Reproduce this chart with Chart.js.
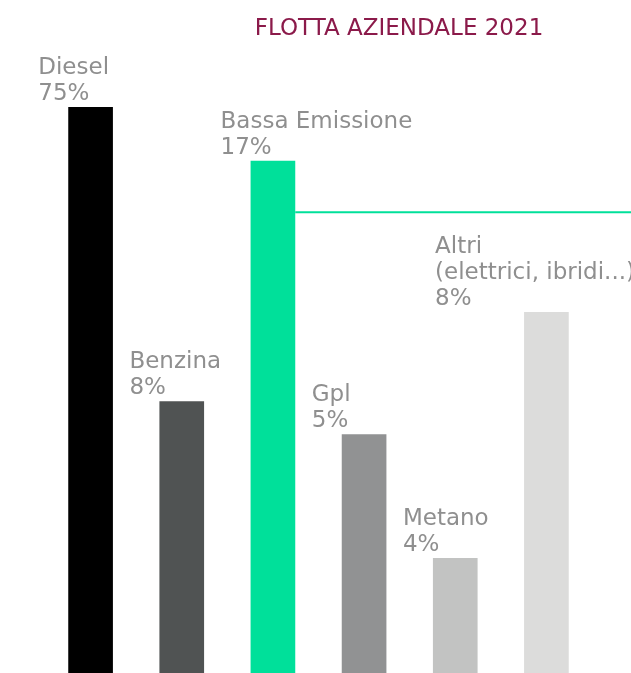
<!DOCTYPE html>
<html>
<head>
<meta charset="utf-8">
<script src="https://cdn.jsdelivr.net/npm/chart.js@4"></script>
<style>
  html, body { margin: 0; padding: 0; background: #fff; }
  #wrap { width: 631px; height: 673px; position: relative; }
</style>
</head>
<body>
<div id="wrap"><canvas id="fleetChart"></canvas></div>
<script>
// fleet composition 2021
const categories = [["Diesel"], ["Benzina"], ["Bassa Emissione"], ["Gpl"], ["Metano"], ["Altri", "(elettrici, ibridi...)"]];
const shares = [75, 8, 17, 5, 4, 8];
// visual bar heights as drawn in the infographic (tallest = 100)
const barHeights = [100, 48, 90.5, 42.2, 20.3, 63.8];
const barColors = ["#000000", "#505353", "#00e09a", "#919293", "#c2c3c2", "#dcdcdb"];
const lowEmissionLevel = 81.4;

const labelPlugin = {
  id: "barLabels",
  afterDatasetsDraw(chart) {
    const ctx = chart.ctx;
    const meta = chart.getDatasetMeta(0);
    ctx.save();

    // green guide line from the low emission bar to the right edge
    const green = meta.data[2];
    const gy = chart.scales.y.getPixelForValue(lowEmissionLevel);
    ctx.strokeStyle = "#00e09a";
    ctx.lineWidth = 2;
    ctx.beginPath();
    ctx.moveTo(green.x + green.width / 2, gy);
    ctx.lineTo(chart.width, gy);
    ctx.stroke();

    // category + share labels above each bar
    ctx.font = '23px "DejaVu Sans"';
    ctx.fillStyle = "#8f8f8f";
    ctx.textAlign = "left";
    ctx.textBaseline = "alphabetic";
    meta.data.forEach((bar, i) => {
      const lines = [...categories[i], shares[i] + "%"];
      const w = Math.max(...lines.map(l => ctx.measureText(l).width));
      const x = Math.min(bar.x - bar.width / 2 - 30, chart.width + 4 - w);
      lines.forEach((l, k) => {
        ctx.fillText(l, x, bar.y - 7 - (lines.length - 1 - k) * 26);
      });
    });

    // title
    ctx.font = '23px "DejaVu Sans"';
    ctx.fillStyle = "#8b1a4a";
    ctx.textAlign = "center";
    ctx.fillText("FLOTTA AZIENDALE 2021", 399, 35);
    ctx.restore();
  }
};

new Chart(document.getElementById("fleetChart"), {
  type: "bar",
  data: {
    labels: categories.map(c => c.join(" ")),
    datasets: [{
      data: barHeights,
      backgroundColor: barColors,
      borderWidth: 0,
      categoryPercentage: 1,
      barPercentage: 0.49
    }]
  },
  options: {
    responsive: true,
    maintainAspectRatio: false,
    animation: false,
    layout: { padding: { top: 107, left: 45, right: 39, bottom: 0 } },
    scales: {
      x: { display: false },
      y: { display: false, min: 0, max: 100 }
    },
    plugins: {
      legend: { display: false },
      tooltip: { enabled: false }
    }
  },
  plugins: [labelPlugin]
});
</script>
</body>
</html>
